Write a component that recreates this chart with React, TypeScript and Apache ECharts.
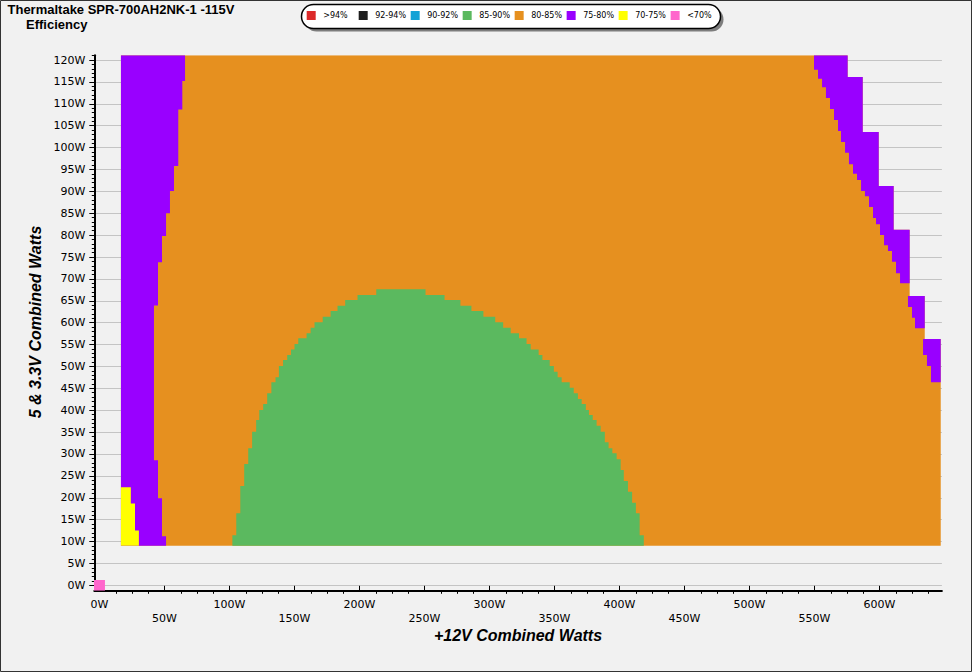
import React, { useEffect, useRef } from "react";
import * as echarts from "echarts";

// ---------- texts ----------
const TITLE = "Thermaltake SPR-700AH2NK-1 -115V";
const SUBTITLE = "Efficiency";
const X_NAME = "+12V Combined Watts";
const Y_NAME = "5 & 3.3V Combined Watts";

// ---------- legend ----------
const LEGEND_LABELS = [">94%", "92-94%", "90-92%", "85-90%", "80-85%", "75-80%", "70-75%", "<70%"];
const LEGEND_COLORS = ["#dc2a2a", "#1e1e1e", "#12a2d6", "#5bb95f", "#e6901f", "#9900ff", "#ffff00", "#ff66cc"];

// ---------- axes ----------
const X_MIN = -4;
const X_MAX = 648;
const Y_MIN = -1.25;
const Y_MAX = 121.1;
const X_TICKS = [0, 50, 100, 150, 200, 250, 300, 350, 400, 450, 500, 550, 600];
const Y_TICKS = [0, 5, 10, 15, 20, 25, 30, 35, 40, 45, 50, 55, 60, 65, 70, 75, 80, 85, 90, 95, 100, 105, 110, 115, 120];

// ---------- measured load range (W) ----------
const LOAD_TOP = 121.1;
const LOAD_BOTTOM = 9.05;
const LOAD_LEFT = 16.5;

// Boundaries as steps: [y from, y to, +12V watts]
const OUTER_EDGE = [
  [121.1, 116.1, 575.5], [116.1, 103.55, 587.1], [103.55, 91.2, 599.4], [91.2, 81.2, 610.9],
  [81.2, 66.1, 623.2], [66.1, 56.25, 634.8], [56.25, 9.05, 647.1],
];

const PURPLE_LEFT_END = [
  [121.1, 115.2, 65.8], [115.2, 108.7, 63.7], [108.7, 95.8, 60.6], [95.8, 90.1, 57.3],
  [90.1, 85.0, 54.2], [85.0, 79.8, 51.2], [79.8, 73.8, 48.1], [73.8, 63.9, 45.0],
  [63.9, 28.6, 41.9], [28.6, 19.9, 45.0], [19.9, 11.2, 48.1], [11.2, 9.05, 51.2],
];

const YELLOW_TOP = 22.4;
const YELLOW_END = [
  [22.4, 18.7, 24.1], [18.7, 12.5, 27.3], [12.5, 9.05, 30.3],
];

const PURPLE_RIGHT_START = [
  [121.1, 117.8, 549.6], [117.8, 115.7, 552.7], [115.7, 113.8, 555.8], [113.8, 111.3, 558.8],
  [111.3, 108.8, 561.9], [108.8, 106.3, 565.0], [106.3, 103.8, 568.1], [103.8, 101.3, 570.4],
  [101.3, 98.8, 573.5], [98.8, 96.2, 576.5], [96.2, 94.0, 579.6], [94.0, 92.6, 582.7],
  [92.6, 90.1, 585.8], [90.1, 88.9, 588.8], [88.9, 86.4, 591.9], [86.4, 83.9, 595.0],
  [83.9, 82.5, 597.3], [82.5, 80.0, 600.4], [80.0, 77.7, 603.5], [77.7, 76.4, 606.5],
  [76.4, 73.9, 609.6], [73.9, 71.3, 612.7], [71.3, 69.0, 615.8], [69.0, 66.1, 623.2],
  [66.1, 63.6, 621.9], [63.6, 61.1, 625.0], [61.1, 58.7, 627.3], [58.7, 56.25, 634.8],
  [56.25, 52.6, 633.5], [52.6, 50.1, 636.5], [50.1, 46.4, 639.6], [46.4, 9.05, 647.1],
];

const GREEN_LEFT = [
  [67.61, 66.32, 212.9], [66.32, 65.17, 198.5], [65.17, 63.88, 189.0], [63.88, 62.66, 183.1],
  [62.66, 61.37, 177.8], [61.37, 60.07, 171.7], [60.07, 58.85, 165.4], [58.85, 57.56, 162.4],
  [57.56, 56.42, 159.3], [56.42, 55.12, 152.9], [55.12, 53.9, 150.0], [53.9, 52.61, 147.3],
  [52.61, 51.47, 144.4], [51.47, 50.1, 141.2], [50.1, 47.51, 138.0], [47.51, 46.37, 135.4],
  [46.37, 43.85, 132.2], [43.85, 41.42, 129.0], [41.42, 40.05, 125.9], [40.05, 37.76, 122.9],
  [37.76, 35.1, 120.5], [35.1, 31.29, 117.4], [31.29, 27.71, 114.4], [27.71, 22.68, 111.3],
  [22.68, 16.44, 108.3], [16.44, 11.42, 105.2], [11.42, 9.05, 102.2],
];

const GREEN_RIGHT = [
  [67.61, 66.32, 250.8], [66.32, 65.17, 265.4], [65.17, 63.88, 277.6], [63.88, 62.66, 286.1],
  [62.66, 61.37, 295.3], [61.37, 60.07, 304.4], [60.07, 58.85, 310.5], [58.85, 57.56, 316.3],
  [57.56, 56.42, 322.7], [56.42, 55.12, 328.5], [55.12, 53.9, 331.7], [53.9, 52.61, 337.8],
  [52.61, 51.47, 340.7], [51.47, 50.1, 346.3], [50.1, 48.8, 349.5], [48.8, 47.51, 352.4],
  [47.51, 46.37, 355.5], [46.37, 45.15, 361.7], [45.15, 43.85, 364.8], [43.85, 42.56, 368.0],
  [42.56, 41.42, 370.9], [41.42, 40.05, 374.1], [40.05, 38.9, 376.5], [38.9, 37.76, 379.4],
  [37.76, 36.47, 382.4], [36.47, 35.1, 385.5], [35.1, 32.66, 388.7], [32.66, 31.29, 391.6],
  [31.29, 30.15, 394.5], [30.15, 28.78, 397.8], [28.78, 26.34, 400.9], [26.34, 23.83, 403.3],
  [23.83, 21.39, 406.5], [21.39, 18.88, 409.7], [18.88, 16.44, 412.6], [16.44, 11.42, 415.5],
  [11.42, 9.05, 418.7],
];

// no-load point (<70%)
const PINK_CELL_LEFT = [[1.2, -1.25, -4.5]];
const PINK_CELL_RIGHT = [[1.2, -1.25, 4.2]];

type Step = number[];

const REGIONS: { name: string; color: string; left: Step[]; right: Step[] }[] = [
  { name: "80-85%", color: LEGEND_COLORS[4], left: [[LOAD_TOP, LOAD_BOTTOM, LOAD_LEFT]], right: OUTER_EDGE },
  { name: "75-80%", color: LEGEND_COLORS[5], left: [[LOAD_TOP, LOAD_BOTTOM, LOAD_LEFT]], right: PURPLE_LEFT_END },
  { name: "75-80% ", color: LEGEND_COLORS[5], left: PURPLE_RIGHT_START, right: OUTER_EDGE },
  { name: "70-75%", color: LEGEND_COLORS[6], left: [[YELLOW_TOP, LOAD_BOTTOM, LOAD_LEFT]], right: YELLOW_END },
  { name: "85-90%", color: LEGEND_COLORS[3], left: GREEN_LEFT, right: GREEN_RIGHT },
  { name: "<70%", color: LEGEND_COLORS[7], left: PINK_CELL_LEFT, right: PINK_CELL_RIGHT },
];

function stairPoints(left: Step[], right: Step[], api: any) {
  const pts: number[][] = [];
  for (const [y0, y1, x] of left) {
    pts.push(api.coord([x, y0]));
    pts.push(api.coord([x, y1]));
  }
  for (let i = right.length - 1; i >= 0; i--) {
    const [y0, y1, x] = right[i];
    pts.push(api.coord([x, y1]));
    pts.push(api.coord([x, y0]));
  }
  return pts;
}

const LABEL_FONT = "DejaVu Sans";

export default function App() {
  const ref = useRef<HTMLDivElement>(null);

  useEffect(() => {
    if (!ref.current) return;
    const chart = echarts.init(ref.current, undefined, { renderer: "svg" });

    const xMinor: number[] = [];
    for (let v = 12.5; v < X_MAX; v += 12.5) if (v % 50 !== 0) xMinor.push(v);
    const yMinor: number[] = [];
    for (let v = 0; v <= 121; v += 1) if (v % 5 !== 0) yMinor.push(v);

    const legendItems: any[] = [];
    LEGEND_LABELS.forEach((lab, i) => {
      const x0 = 306.7 + i * 51.99;
      legendItems.push({
        type: "rect",
        shape: { x: x0, y: 11, width: 9, height: 9 },
        style: { fill: LEGEND_COLORS[i] },
      });
      legendItems.push({
        type: "text",
        style: {
          text: lab, x: x0 + 16.5, y: 15.8, fill: "#000",
          font: `8px "${LABEL_FONT}"`, verticalAlign: "middle", align: "left",
        },
      });
    });

    const option: any = {
      animation: false,
      backgroundColor: "#f1f1f1",
      grid: { left: 94.3, right: 30.1, top: 55.2, bottom: 81.2, containLabel: false },
      xAxis: [
        {
          type: "value", min: X_MIN, max: X_MAX, position: "bottom",
          axisLine: { show: true, onZero: false, lineStyle: { color: "#000", width: 2 } },
          axisTick: { show: true, inside: true, length: 5, customValues: X_TICKS, lineStyle: { color: "#000", width: 1 } },
          axisLabel: {
            show: true, customValues: X_TICKS, margin: 7, color: "#000",
            fontFamily: LABEL_FONT, fontSize: 11, lineHeight: 13.5,
            formatter: (v: number) => (v % 100 === 0 ? `${v}W` : `\n${v}W`),
          },
          splitLine: { show: false },
        },
        {
          type: "value", min: X_MIN, max: X_MAX, position: "bottom",
          axisLine: { show: false, onZero: false },
          axisTick: { show: true, inside: false, length: 3, customValues: xMinor, lineStyle: { color: "#000", width: 1 } },
          axisLabel: { show: false },
          splitLine: { show: false },
        },
      ],
      yAxis: [
        {
          type: "value", min: Y_MIN, max: Y_MAX, position: "left",
          axisLine: { show: true, onZero: false, lineStyle: { color: "#000", width: 2 } },
          axisTick: { show: true, inside: false, length: 5, customValues: Y_TICKS, lineStyle: { color: "#000", width: 1 } },
          axisLabel: {
            show: true, customValues: Y_TICKS, margin: 9, color: "#000",
            fontFamily: LABEL_FONT, fontSize: 11,
            formatter: (v: number) => `${v}W`,
          },
          splitLine: { show: true, lineStyle: { color: "#c4c4c4", width: 1 } },
        },
        {
          type: "value", min: Y_MIN, max: Y_MAX, position: "left",
          axisLine: { show: false, onZero: false },
          axisTick: { show: true, inside: false, length: 2.5, customValues: yMinor, lineStyle: { color: "#000", width: 1 } },
          axisLabel: { show: false },
          splitLine: { show: false },
        },
      ],
      series: REGIONS.map((r) => ({
        type: "custom",
        name: r.name,
        coordinateSystem: "cartesian2d",
        xAxisIndex: 0,
        yAxisIndex: 0,
        clip: true,
        silent: true,
        data: [[0, 0]],
        renderItem: (_params: any, api: any) => ({
          type: "polygon",
          shape: { points: stairPoints(r.left, r.right, api) },
          style: { fill: r.color, stroke: null },
        }),
      })),
      graphic: [
        {
          type: "rect", silent: true,
          shape: { x: 0.5, y: 0.5, width: 971, height: 671 },
          style: { fill: "none", stroke: "#333", lineWidth: 1 },
        },
        {
          type: "text",
          style: { text: TITLE, x: 7.5, y: 9.8, fill: "#000", font: 'bold 13px "Liberation Sans", Arial', verticalAlign: "middle" },
        },
        {
          type: "text",
          style: { text: SUBTITLE, x: 26, y: 24.8, fill: "#000", font: 'bold 13px "Liberation Sans", Arial', verticalAlign: "middle" },
        },
        {
          type: "text",
          style: { text: X_NAME, x: 518, y: 635, fill: "#000", font: 'italic bold 16px "Liberation Sans", Arial', align: "center", verticalAlign: "middle" },
        },
        {
          type: "text",
          x: 35, y: 322, rotation: Math.PI / 2,
          style: { text: Y_NAME, x: 0, y: 0, fill: "#000", font: 'italic bold 16px "Liberation Sans", Arial', align: "center", verticalAlign: "middle" },
        },
        {
          type: "rect",
          shape: { x: 304.5, y: 7.5, width: 419, height: 24, r: 12 },
          style: { fill: "#7d7d7d" },
        },
        {
          type: "rect",
          shape: { x: 301.5, y: 4.5, width: 419, height: 24, r: 12 },
          style: { fill: "#fff", stroke: "#000", lineWidth: 1.5 },
        },
        ...legendItems,
      ],
    };

    chart.setOption(option);
    return () => chart.dispose();
  }, []);

  return (
    <div
      ref={ref}
      style={{ position: "fixed", left: 0, top: 0, width: 972, height: 672 }}
    />
  );
}
